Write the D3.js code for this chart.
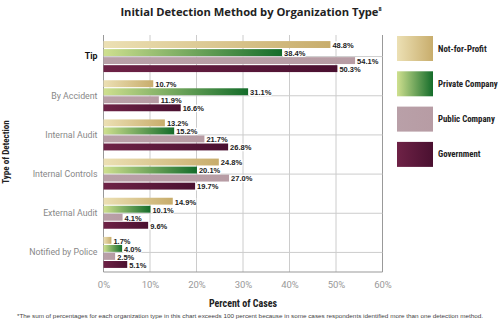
<!DOCTYPE html>
<html><head><meta charset="utf-8">
<script src="https://cdn.jsdelivr.net/npm/d3@7"></script>
<style>
html,body{margin:0;padding:0;background:#fff;}
svg{display:block;}
</style></head>
<body>
<svg id="c" width="500" height="332"></svg>
<script>
const categories = ["Tip","By Accident","Internal Audit","Internal Controls","External Audit","Notified by Police"];
const seriesNames = ["Not-for-Profit","Private Company","Public Company","Government"];
const notForProfit = [48.8,10.7,13.2,24.8,14.9,1.7];
const privateCompany = [38.4,31.1,15.2,20.1,10.1,4.0];
const publicCompany = [54.1,11.9,21.7,27.0,4.1,2.5];
const government = [50.3,16.6,26.8,19.7,9.6,5.1];
const xTicks = [0,10,20,30,40,50,60];
const title = "Initial Detection Method by Organization Type";
const footnote = "*The sum of percentages for each organization type in this chart exceeds 100 percent because in some cases respondents identified more than one detection method.";

const series = [notForProfit, privateCompany, publicCompany, government];
const svg = d3.select("#c");
const defs = svg.append("defs");
const grads = [
  ["#ece0b4","#c8ad6c"],
  ["#cfe08f","#146c2a"],
  ["#b9a0a8","#b79ca4"],
  ["#6e2246","#4a1030"]
];
grads.forEach((g,i)=>{
  const lg = defs.append("linearGradient").attr("id","g"+i).attr("x1","0%").attr("x2","100%").attr("y1","0").attr("y2","0");
  lg.append("stop").attr("offset","0%").attr("stop-color",g[0]);
  lg.append("stop").attr("offset","100%").attr("stop-color",g[1]);
});

const cond = "'Liberation Sans Narrow','Roboto Condensed','Arial Narrow',sans-serif";
const L = 103.5, R = 382.5, T = 37, B = 272;
const x = d3.scaleLinear().domain([0,60]).range([L,R]);
const y = d3.scaleBand().domain(categories).range([T,B]);
const inner = d3.scaleBand().domain(d3.range(4)).range([y.bandwidth()/2-15.5, y.bandwidth()/2+15.5]).paddingInner(0.14);

// title
const t = svg.append("text").attr("x",251).attr("y",16).attr("text-anchor","middle")
  .attr("font-family","'Open Sans',sans-serif").attr("font-weight","bold").attr("font-size",11.2).attr("fill","#222").text(title);
t.append("tspan").attr("dy",-5).attr("font-size",5.5).text("8");

// grid
const g = svg.append("g");
g.selectAll(".vg").data(xTicks).join("line")
  .attr("x1",d=>x(d)).attr("x2",d=>x(d)).attr("y1",35).attr("y2",B)
  .attr("stroke",d=>d===0||d===60?"#999":"#ccc").attr("stroke-width",1);
g.selectAll(".hg").data(categories).join("line")
  .attr("x1",L).attr("x2",R).attr("y1",d=>y(d)+y.bandwidth()/2).attr("y2",d=>y(d)+y.bandwidth()/2)
  .attr("stroke","#ccc");
g.append("line").attr("x1",L).attr("x2",R).attr("y1",B).attr("y2",B).attr("stroke","#999");

// x axis
const xa = svg.append("g").attr("transform",`translate(0,${B})`)
  .call(d3.axisBottom(x).tickValues(xTicks).tickFormat(d=>d+"%").tickSize(0).tickPadding(9));
xa.select(".domain").remove();
xa.selectAll("text").attr("font-family","Roboto,sans-serif").attr("font-size",9.5).attr("fill","#999");

// y axis
const ya = svg.append("g").attr("transform",`translate(${L},0)`)
  .call(d3.axisLeft(y).tickSize(0).tickPadding(6));
ya.select(".domain").remove();
ya.selectAll("text").attr("font-family","Roboto,sans-serif").attr("font-size",8.8)
  .attr("fill",d=>d==="Tip"?"#111":"#888").attr("font-weight",d=>d==="Tip"?"bold":"normal");

// bars
const bars = svg.append("g");
categories.forEach((c,ci)=>{
  series.forEach((s,si)=>{
    const yy = y(c)+inner(si);
    const h = inner.bandwidth();
    bars.append("rect").attr("x",x(0)).attr("y",yy).attr("width",x(s[ci])-x(0)).attr("height",h)
      .attr("fill",`url(#g${si})`);
    const label = s[ci].toFixed(1)+"%";
    const tx = x(s[ci])+2;
    const tw = label.length*4.1+2;
    bars.append("rect").attr("x",tx-1).attr("y",yy+h/2-3.2).attr("width",tw).attr("height",7.5).attr("fill","#fff");
    bars.append("text").attr("x",tx).attr("y",yy+h/2+3.3).attr("font-family","'Liberation Sans',Arial,sans-serif")
      .attr("font-weight","bold").attr("font-size",7.5).attr("fill","#222").text(label);
  });
});

// axis titles
svg.append("text").attr("x",243).attr("y",307).attr("text-anchor","middle")
  .attr("font-family",cond).attr("font-weight","bold").attr("font-size",10).attr("fill","#222").text("Percent of Cases");
svg.append("text").attr("transform","translate(9,152) rotate(-90)").attr("text-anchor","middle")
  .attr("font-family",cond).attr("font-weight","bold").attr("font-size",9).attr("fill","#222").text("Type of Detection");

// legend
const leg = svg.append("g");
seriesNames.forEach((n,i)=>{
  const ly = 36 + i*35.3;
  leg.append("rect").attr("x",397).attr("y",ly).attr("width",36).attr("height",25).attr("fill",`url(#g${i})`);
  leg.append("text").attr("x",438).attr("y",ly+15.5).attr("font-family",cond).attr("font-weight","bold")
    .attr("font-size",8.8).attr("fill","#222").text(n);
});

// footnote
svg.append("text").attr("x",250).attr("y",318).attr("text-anchor","middle")
  .attr("font-family","'Liberation Sans',Arial,sans-serif").attr("font-size",6).attr("fill","#444")
  .attr("textLength",466).attr("lengthAdjust","spacingAndGlyphs").text(footnote);
</script>
</body></html>
